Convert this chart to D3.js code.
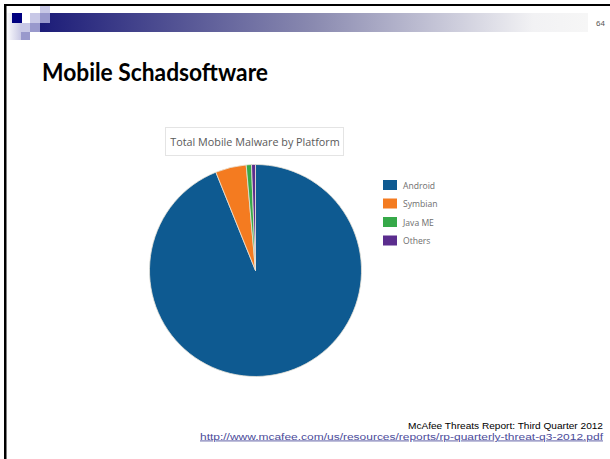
<!DOCTYPE html>
<html>
<head>
<meta charset="UTF-8">
<title>Mobile Schadsoftware</title>
<style>
  body { margin: 0; background: #fff; }
  svg { display: block; }
</style>
</head>
<body>
<script src="https://d3js.org/d3.v7.min.js"></script>
<script>
// data
const platforms = ["Android", "Symbian", "Java ME", "Others"]
const shares = [93.9, 4.7, 0.8, 0.6]   // % of total mobile malware
const colors = ["#0e5a91", "#f47b20", "#36a949", "#5b2d8e"]

const width = 610, height = 459
const svg = d3.select("body").append("svg")
    .attr("width", width)
    .attr("height", height)

// slide decoration: gradient bar and squares
const defs = svg.append("defs")
const grad = defs.append("linearGradient").attr("id", "bar")
grad.append("stop").attr("offset", "0%").attr("stop-color", "#1c1c78")
grad.append("stop").attr("offset", "50%").attr("stop-color", "#8a8ab0")
grad.append("stop").attr("offset", "90%").attr("stop-color", "#f2f2f4")
grad.append("stop").attr("offset", "100%").attr("stop-color", "#f6f6f6")
const lgrad = defs.append("linearGradient").attr("id", "leftfade")
lgrad.append("stop").attr("offset", "0%").attr("stop-color", "#ffffff")
lgrad.append("stop").attr("offset", "100%").attr("stop-color", "#c8c8e4")

svg.append("rect").attr("x", 40).attr("y", 13).attr("width", 548).attr("height", 19)
    .attr("fill", "url(#bar)")
svg.append("rect").attr("x", 6).attr("y", 13).attr("width", 15).attr("height", 27)
    .attr("fill", "url(#leftfade)")

const squares = [
    [40, 6, 10, 7, "#c8c8e6"],
    [12, 13, 10, 10, "#000080"],
    [22, 13, 8, 10, "#ffffff"],
    [30, 13, 10, 10, "#c8c8e6"],
    [40, 13, 10, 10, "#9999cc"],
    [21, 23, 9, 9, "#c8c8e6"],
    [30, 23, 10, 9, "#9999cc"],
    [21, 32, 9, 8, "#9999cc"]
]
svg.selectAll("rect.sq").data(squares).enter().append("rect")
    .attr("class", "sq")
    .attr("x", d => d[0]).attr("y", d => d[1])
    .attr("width", d => d[2]).attr("height", d => d[3])
    .attr("fill", d => d[4])

// frame lines (top and left)
svg.append("rect").attr("x", 4).attr("y", 4).attr("width", 606).attr("height", 2).attr("fill", "#000")
svg.append("rect").attr("x", 4).attr("y", 4).attr("width", 2.5).attr("height", 455).attr("fill", "#000")

svg.append("text").attr("x", 605).attr("y", 26).attr("text-anchor", "end")
    .attr("font-family", "Liberation Sans, Arial, sans-serif").attr("font-size", 8)
    .attr("fill", "#555").text("64")

// slide title
svg.append("text").attr("x", 42).attr("y", 81)
    .attr("font-family", "Lato, Carlito, sans-serif").attr("font-weight", "bold")
    .attr("font-size", 24).attr("fill", "#000")
    .attr("textLength", 226).attr("lengthAdjust", "spacingAndGlyphs")
    .text("Mobile Schadsoftware")

// chart title box
svg.append("rect").attr("x", 165.5).attr("y", 127.5).attr("width", 178).attr("height", 28)
    .attr("fill", "#fff").attr("stroke", "#e4e4e4")
svg.append("text").attr("x", 255).attr("y", 145.5).attr("text-anchor", "middle")
    .attr("font-family", "Open Sans, sans-serif").attr("font-size", 10.8)
    .attr("fill", "#5a5a5a").text("Total Mobile Malware by Platform")

// pie
const cx = 255.5, cy = 270.5, r = 106
const pie = d3.pie().sort(null).value(d => d)
const arc = d3.arc().innerRadius(0).outerRadius(r)
const color = d3.scaleOrdinal().domain(platforms).range(colors)

svg.append("g").attr("transform", `translate(${cx},${cy})`)
    .selectAll("path")
    .data(pie(shares))
    .enter()
    .append("path")
    .attr("d", arc)
    .attr("fill", (d, i) => color(platforms[i]))
    .attr("stroke", "#e9e3d8")
    .attr("stroke-width", 0.8)

// legend
const legend = svg.append("g").attr("transform", "translate(383,180)")
const item = legend.selectAll("g").data(platforms).enter().append("g")
    .attr("transform", (d, i) => `translate(0,${i * 18.5})`)
item.append("rect").attr("width", 14).attr("height", 10)
    .attr("fill", d => color(d))
item.append("text").attr("x", 20).attr("y", 8.5)
    .attr("font-family", "Open Sans, sans-serif").attr("font-size", 8.6)
    .attr("fill", "#6e6e6e").text(d => d)

// source
svg.append("text").attr("x", 603).attr("y", 428.5).attr("text-anchor", "end")
    .attr("font-family", "Liberation Sans, Arial, sans-serif").attr("font-size", 9)
    .attr("textLength", 195).attr("lengthAdjust", "spacingAndGlyphs")
    .attr("fill", "#000").text("McAfee Threats Report: Third Quarter 2012")
svg.append("text").attr("x", 603).attr("y", 439.5).attr("text-anchor", "end")
    .attr("font-family", "Liberation Sans, Arial, sans-serif").attr("font-size", 8.5)
    .attr("textLength", 403).attr("lengthAdjust", "spacingAndGlyphs")
    .attr("fill", "#4b4b9a").attr("text-decoration", "underline")
    .text("http://www.mcafee.com/us/resources/reports/rp-quarterly-threat-q3-2012.pdf")
</script>
</body>
</html>
